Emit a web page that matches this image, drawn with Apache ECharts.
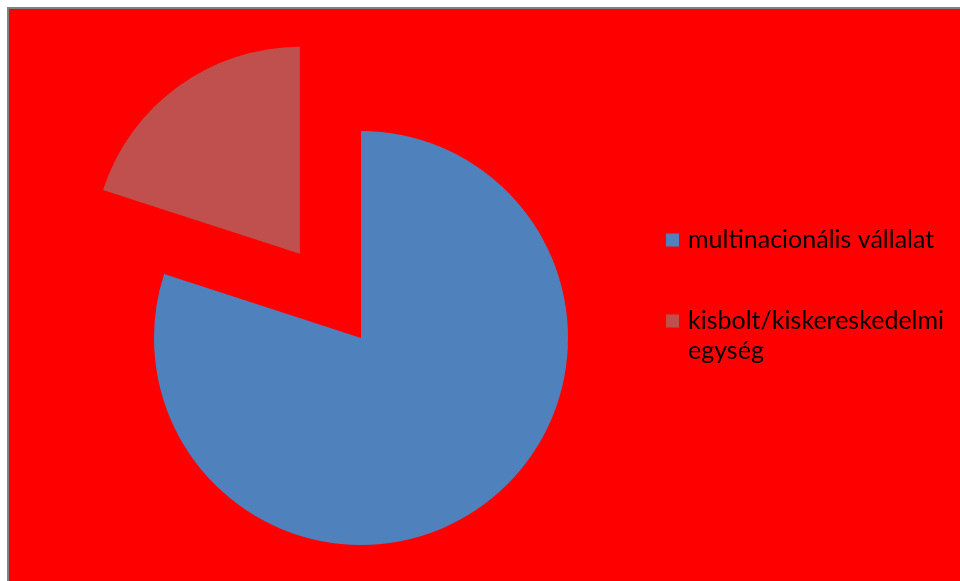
<!DOCTYPE html>
<html><head><meta charset="utf-8">
<script src="https://cdn.jsdelivr.net/npm/echarts@6/dist/echarts.min.js"></script>
<style>
html,body{margin:0;padding:0;background:#fff;width:960px;height:581px;overflow:hidden;}
#frame{position:absolute;left:7px;top:7px;width:960px;height:581px;border-left:2px solid #808080;border-top:2px solid #808080;background:#ff0000;}
#chart{position:absolute;left:0;top:0;width:960px;height:581px;}
</style></head>
<body>
<div id="frame"></div>
<div id="chart"></div>
<script>
const categories = ['multinacionális vállalat', 'kisbolt/kiskereskedelmi egység'];
const values = [80, 20];
const legendLabels = ['multinacionális vállalat', ' \nkisbolt/kiskereskedelmi\negység'];
const colors = ['#4F81BD', '#C0504D'];

const chart = echarts.init(document.getElementById('chart'), null, {renderer:'canvas'});
chart.setOption({
  animation: false,
  backgroundColor: 'transparent',
  color: colors,
  legend: {
    orient: 'vertical',
    left: 666,
    top: 225,
    padding: 0,
    itemWidth: 13,
    itemHeight: 13,
    itemGap: 21,
    icon: 'rect',
    selectedMode: false,
    formatter: function(n){ return legendLabels[categories.indexOf(n)]; },
    textStyle: {fontFamily: 'Lato', fontSize: 25, color: '#000', lineHeight: 30, padding: [0, 0, 0, 4]},
    data: categories
  },
  series: [{
    type: 'pie',
    center: [361, 338],
    radius: 207,
    startAngle: 90,
    clockwise: true,
    selectedMode: 'single',
    selectedOffset: 104,
    label: {show: false},
    labelLine: {show: false},
    emphasis: {disabled: true},
    data: categories.map((c, i) => ({name: c, value: values[i], selected: i === 1}))
  }]
});
</script>
</body></html>
